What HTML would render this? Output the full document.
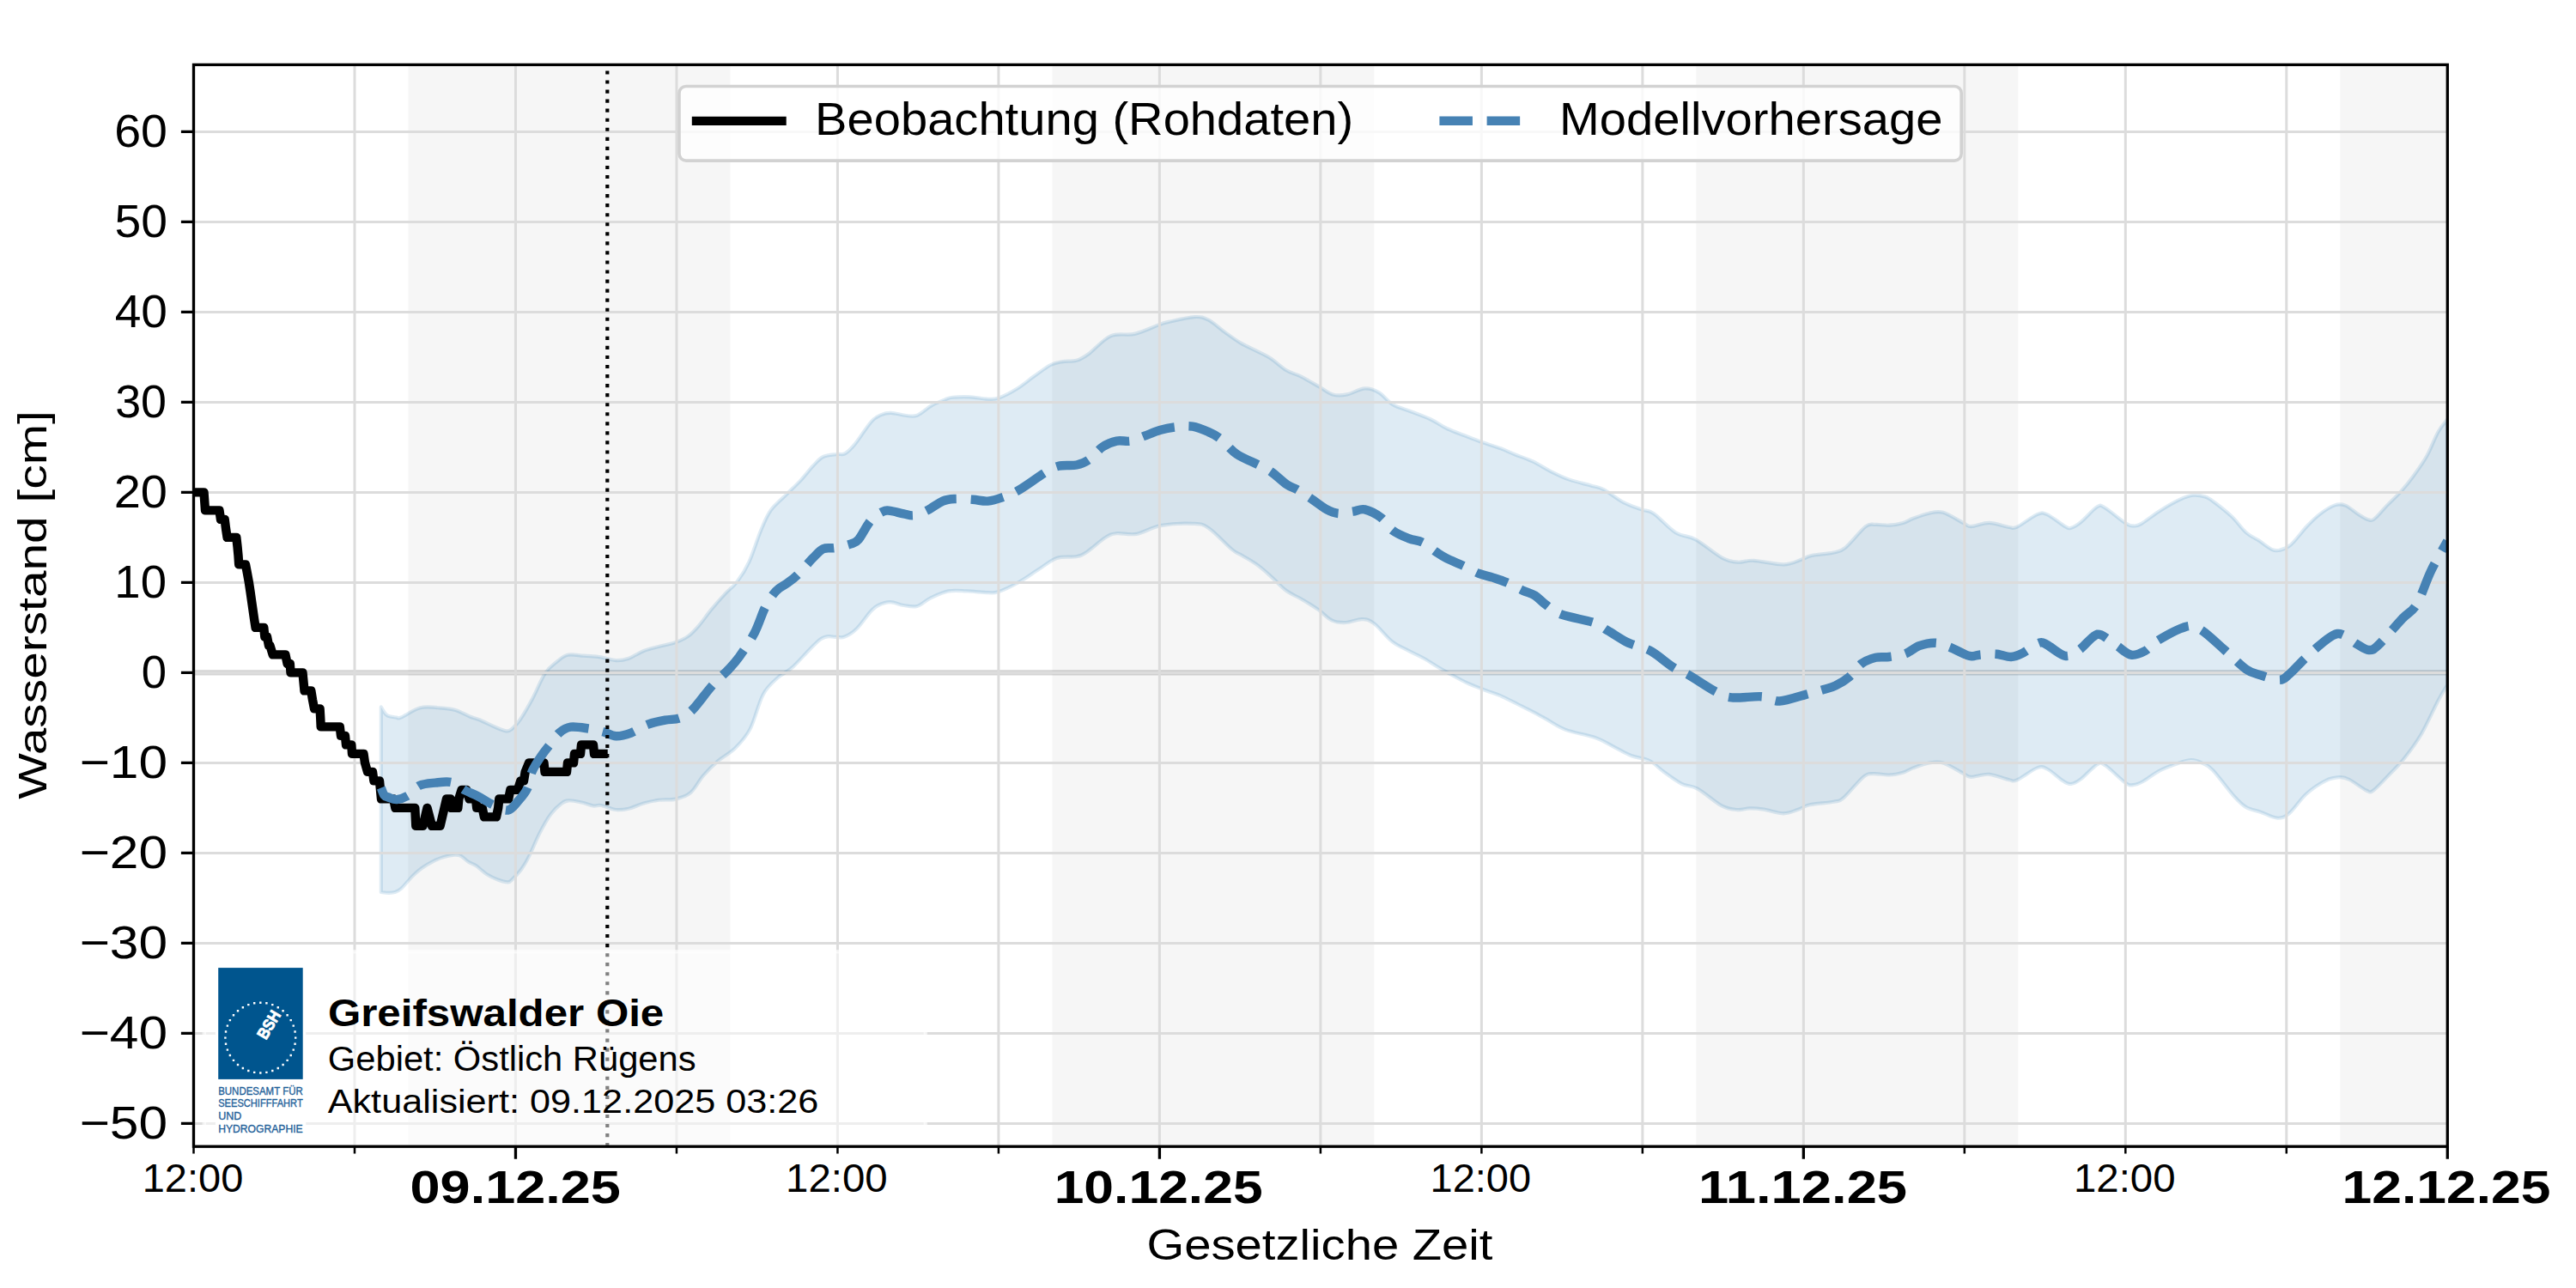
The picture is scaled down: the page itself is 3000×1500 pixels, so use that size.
<!DOCTYPE html><html><head><meta charset="utf-8"><style>html,body{margin:0;padding:0;background:#fff;overflow:hidden}svg{display:block}text{font-family:"Liberation Sans", sans-serif;fill:#000}</style></head><body>
<svg width="3000" height="1500" viewBox="0 0 3000 1500">
<rect x="0" y="0" width="3000" height="1500" fill="#fff"/>
<defs><clipPath id="ax"><rect x="225.5" y="75.4" width="2624.8" height="1259.8"/></clipPath></defs>
<g clip-path="url(#ax)">
<rect x="475.48" y="75.4" width="374.97" height="1259.8" fill="#f6f6f6"/>
<rect x="1225.42" y="75.4" width="374.97" height="1259.8" fill="#f6f6f6"/>
<rect x="1975.37" y="75.4" width="374.97" height="1259.8" fill="#f6f6f6"/>
<rect x="2725.31" y="75.4" width="124.99" height="1259.8" fill="#f6f6f6"/>
<line x1="225.5" y1="783.4" x2="2850.3" y2="783.4" stroke="#808080" stroke-opacity="0.34" stroke-width="6.3"/>
<path d="M443.8 823.4 C444.88 824.95 447.35 830.68 450.3 832.7 C453.25 834.72 458.7 835.03 461.5 835.5 C464.3 835.97 462.43 837.37 467.1 835.5 C471.77 833.63 482.05 826.17 489.5 824.3 C496.95 822.43 504.97 823.85 511.8 824.3 C518.63 824.75 524.6 825.3 530.5 827 C536.4 828.7 542.55 832.62 547.2 834.5 C551.85 836.38 552.8 835.97 558.4 838.3 C564 840.63 575.2 846.33 580.8 848.5 C586.4 850.67 588.9 851.77 592 851.3 C595.1 850.83 596.92 848.18 599.4 845.7 C601.88 843.22 603.48 841.68 606.9 836.4 C610.32 831.12 615.25 822.7 619.9 814 C624.55 805.3 630.13 791.33 634.8 784.2 C639.47 777.07 643.55 774.77 647.9 771.2 C652.25 767.63 655.63 764.05 660.9 762.8 C666.17 761.55 673.92 763.38 679.5 763.7 C685.08 764.02 690.98 764.42 694.4 764.7 C697.82 764.98 696.17 764.67 700 765.4 C703.83 766.13 712.02 768.88 717.4 769.1 C722.78 769.32 726.92 768.55 732.3 766.7 C737.68 764.85 743.9 760.28 749.7 758 C755.5 755.72 760.9 754.67 767.1 753 C773.3 751.33 781.12 750.07 786.9 748 C792.68 745.93 797.25 743.9 801.8 740.6 C806.35 737.3 809.82 733.27 814.2 728.2 C818.58 723.13 823.07 716.3 828.1 710.2 C833.13 704.1 839.35 697.03 844.4 691.6 C849.45 686.17 853.73 683.82 858.4 677.6 C863.07 671.38 867.73 664.4 872.4 654.3 C877.07 644.2 882.13 627.08 886.4 617 C890.67 606.92 892.95 600.78 898 593.8 C903.05 586.82 910.87 580.93 916.7 575.1 C922.53 569.27 927.97 564.23 933 558.8 C938.03 553.37 942.63 546.97 946.9 542.5 C951.17 538.03 953.93 534.25 958.6 532 C963.27 529.75 970.63 529.65 974.9 529 C979.17 528.35 980.7 530.12 984.2 528.1 C987.7 526.08 990.85 523.03 995.9 516.9 C1000.95 510.77 1009.45 496.93 1014.5 491.3 C1019.55 485.67 1022.32 484.85 1026.2 483.1 C1030.08 481.35 1033.15 480.68 1037.8 480.8 C1042.45 480.92 1049.05 483.3 1054.1 483.8 C1059.15 484.3 1063.05 485.67 1068.1 483.8 C1073.15 481.93 1079.08 475.63 1084.4 472.6 C1089.72 469.57 1095.85 467.23 1100 465.6 C1104.15 463.97 1104.25 463.35 1109.3 462.8 C1114.35 462.25 1123.7 462 1130.3 462.3 C1136.9 462.6 1143.47 464.4 1148.9 464.6 C1154.33 464.8 1157.07 465.43 1162.9 463.5 C1168.73 461.57 1176.92 457.28 1183.9 453 C1190.88 448.72 1198.2 442.47 1204.8 437.8 C1211.4 433.13 1218.07 427.78 1223.5 425 C1228.93 422.22 1232.35 421.98 1237.4 421.1 C1242.45 420.22 1248.75 421.18 1253.8 419.7 C1258.85 418.22 1261.1 416.93 1267.7 412.2 C1274.3 407.47 1284.47 395.18 1293.4 391.3 C1302.33 387.42 1311.98 391.05 1321.3 388.9 C1330.62 386.75 1342.7 380.73 1349.3 378.4 C1355.9 376.07 1353.92 376.45 1360.9 374.9 C1367.88 373.35 1383.43 369.48 1391.2 369.1 C1398.97 368.72 1401.67 369.68 1407.5 372.6 C1413.33 375.52 1419.98 382.13 1426.2 386.6 C1432.42 391.07 1438.2 395.52 1444.8 399.4 C1451.4 403.28 1459.93 406.88 1465.8 409.9 C1471.67 412.92 1474.53 413.9 1480 417.5 C1485.47 421.1 1492.78 428.02 1498.6 431.5 C1504.42 434.98 1508.68 435.3 1514.9 438.4 C1521.12 441.5 1529.68 446.6 1535.9 450.1 C1542.12 453.6 1546.77 457.85 1552.2 459.4 C1557.63 460.95 1562.28 460.57 1568.5 459.4 C1574.72 458.23 1583.28 452.78 1589.5 452.4 C1595.72 452.02 1600.37 453.98 1605.8 457.1 C1611.23 460.22 1615.88 467.42 1622.1 471.1 C1628.32 474.78 1635.72 476.3 1643.1 479.2 C1650.48 482.1 1659.42 485.2 1666.4 488.5 C1673.38 491.8 1678.02 495.7 1685 499 C1691.98 502.3 1701.32 505.58 1708.3 508.3 C1715.28 511.02 1720.3 512.97 1726.9 515.3 C1733.5 517.63 1741.68 519.97 1747.9 522.3 C1754.12 524.63 1757.98 526.78 1764.2 529.3 C1770.42 531.82 1778.2 534.1 1785.2 537.4 C1792.2 540.7 1799.22 545.6 1806.2 549.1 C1813.18 552.6 1819.35 555.68 1827.1 558.4 C1834.85 561.12 1845.95 563.45 1852.7 565.4 C1859.45 567.35 1861.23 566.8 1867.6 570.1 C1873.97 573.4 1883.53 581.32 1890.9 585.2 C1898.27 589.08 1905.98 591.27 1911.8 593.4 C1917.62 595.53 1919.2 593.53 1925.8 598 C1932.4 602.47 1943.25 615.15 1951.4 620.2 C1959.55 625.25 1965.77 623.45 1974.7 628.3 C1983.63 633.15 1996.85 644.9 2005 649.3 C2013.15 653.7 2017.38 654.12 2023.6 654.7 C2029.82 655.28 2033.37 652.35 2042.3 652.8 C2051.23 653.25 2067.88 657.6 2077.2 657.4 C2086.52 657.2 2092.77 653.33 2098.2 651.6 C2103.63 649.87 2103.58 648.35 2109.8 647 C2116.02 645.65 2128.9 645.07 2135.5 643.5 C2142.1 641.93 2143.2 642.65 2149.4 637.6 C2155.6 632.55 2166.87 617.65 2172.7 613.2 C2178.53 608.75 2179.85 611.15 2184.4 610.9 C2188.95 610.65 2194.68 612.03 2200 611.7 C2205.32 611.37 2211.63 610.22 2216.3 608.9 C2220.97 607.58 2222.95 605.67 2228 603.8 C2233.05 601.93 2240.78 598.87 2246.6 597.7 C2252.42 596.53 2256.3 594.93 2262.9 596.8 C2269.5 598.67 2280.77 606.18 2286.2 608.9 C2291.63 611.62 2290.45 613.1 2295.5 613.1 C2300.55 613.1 2309.12 608.75 2316.5 608.9 C2323.88 609.05 2334.37 613.22 2339.8 614 C2345.23 614.78 2343.67 616.08 2349.1 613.6 C2354.53 611.12 2366.58 601.52 2372.4 599.1 C2378.22 596.68 2378.57 596.77 2384 599.1 C2389.43 601.43 2400.33 610.5 2405 613.1 C2409.67 615.7 2408.9 615.58 2412 614.7 C2415.1 613.82 2418.55 611.87 2423.6 607.8 C2428.65 603.73 2437.63 593.02 2442.3 590.3 C2446.97 587.58 2446.17 588.4 2451.6 591.5 C2457.03 594.6 2469.47 605.42 2474.9 608.9 C2480.33 612.38 2481.1 612.2 2484.2 612.4 C2487.3 612.6 2488.45 612.93 2493.5 610.1 C2498.55 607.27 2507.12 600.07 2514.5 595.4 C2521.88 590.73 2531.2 585.2 2537.8 582.1 C2544.4 579 2549.05 577.38 2554.1 576.8 C2559.15 576.22 2564.02 577.27 2568.1 578.6 C2572.18 579.93 2573.43 580.97 2578.6 584.8 C2583.77 588.63 2592.88 595.7 2599.1 601.6 C2605.32 607.5 2610.62 615.53 2615.9 620.2 C2621.18 624.87 2625.83 626.33 2630.8 629.6 C2635.77 632.87 2641.67 637.95 2645.7 639.8 C2649.73 641.65 2651.27 641.63 2655 640.7 C2658.73 639.77 2662.82 638.85 2668.1 634.2 C2673.38 629.55 2681.12 618.7 2686.7 612.8 C2692.28 606.9 2696.32 602.83 2701.6 598.8 C2706.88 594.77 2713.43 590.3 2718.4 588.6 C2723.37 586.9 2726.75 586.9 2731.4 588.6 C2736.05 590.3 2741.95 596.07 2746.3 598.8 C2750.65 601.53 2754.38 604.07 2757.5 605 C2760.62 605.93 2761.27 607.13 2765 604.4 C2768.73 601.67 2774.63 594.03 2779.9 588.6 C2785.17 583.17 2791.33 577.7 2796.6 571.8 C2801.87 565.9 2806.53 560.03 2811.5 553.2 C2816.47 546.37 2821.73 539.18 2826.4 530.8 C2831.07 522.42 2835.52 509.95 2839.5 502.9 C2843.48 495.85 2848.5 490.9 2850.3 488.5 L2850.3 797.5 C2848.52 800.53 2844.65 806.15 2839.6 815.7 C2834.55 825.25 2826.53 843.62 2820 854.8 C2813.47 865.98 2806.47 875.1 2800.4 882.8 C2794.33 890.5 2789.65 894.72 2783.6 901 C2777.55 907.28 2768.75 917.25 2764.1 920.5 C2759.45 923.75 2760.37 922.58 2755.7 920.5 C2751.03 918.42 2741.22 910.55 2736.1 908 C2730.98 905.45 2729.65 904.98 2725 905.2 C2720.35 905.42 2714.73 906.05 2708.2 909.3 C2701.67 912.55 2692.8 918.4 2685.8 924.7 C2678.8 931 2671.78 942.43 2666.2 947.1 C2660.62 951.77 2657.88 952.93 2652.3 952.7 C2646.72 952.47 2638.77 947.8 2632.7 945.7 C2626.63 943.6 2621.03 943.13 2615.9 940.1 C2610.77 937.07 2608.42 934.72 2601.9 927.5 C2595.38 920.28 2583.22 903.37 2576.8 896.8 C2570.38 890.23 2567.57 890.07 2563.4 888.1 C2559.23 886.13 2556.07 884.93 2551.8 885 C2547.53 885.07 2544.02 886.37 2537.8 888.5 C2531.58 890.63 2521.48 894.22 2514.5 897.8 C2507.52 901.38 2500.95 907.27 2495.9 910 C2490.85 912.73 2487.7 913.97 2484.2 914.2 C2480.7 914.43 2480.33 915.22 2474.9 911.4 C2469.47 907.58 2457.03 894.8 2451.6 891.3 C2446.17 887.8 2446.97 887.75 2442.3 890.4 C2437.63 893.05 2428.65 903.43 2423.6 907.2 C2418.55 910.97 2415.48 912.62 2412 913 C2408.52 913.38 2407.37 912.42 2402.7 909.5 C2398.03 906.58 2389.05 898.02 2384 895.5 C2378.95 892.98 2378.22 892.27 2372.4 894.4 C2366.58 896.53 2354.53 905.98 2349.1 908.3 C2343.67 910.62 2345.23 909.38 2339.8 908.3 C2334.37 907.22 2323.88 902.38 2316.5 901.8 C2309.12 901.22 2300.55 905 2295.5 904.8 C2290.45 904.6 2291.63 903.32 2286.2 900.6 C2280.77 897.88 2269.5 890.52 2262.9 888.5 C2256.3 886.48 2252.42 887.52 2246.6 888.5 C2240.78 889.48 2233.05 892.53 2228 894.4 C2222.95 896.27 2220.97 898.35 2216.3 899.7 C2211.63 901.05 2205.7 902.27 2200 902.5 C2194.3 902.73 2187.03 900.75 2182.1 901.1 C2177.17 901.45 2176.23 899.93 2170.4 904.6 C2164.57 909.27 2152.92 924.23 2147.1 929.1 C2141.28 933.97 2142.1 932.43 2135.5 933.8 C2128.9 935.17 2114.5 935.75 2107.5 937.3 C2100.5 938.85 2098.55 941.43 2093.5 943.1 C2088.45 944.77 2083.8 947.38 2077.2 947.3 C2070.6 947.22 2060.5 943.58 2053.9 942.6 C2047.3 941.62 2042.65 941.32 2037.6 941.4 C2032.55 941.48 2029.03 943.6 2023.6 943.1 C2018.17 942.6 2012.77 942.48 2005 938.4 C1997.23 934.32 1984.77 922.87 1977 918.6 C1969.23 914.33 1964.98 916.1 1958.4 912.8 C1951.82 909.5 1943.72 903.27 1937.5 898.8 C1931.28 894.33 1927.32 889.1 1921.1 886 C1914.88 882.9 1906.8 882.72 1900.2 880.2 C1893.6 877.68 1888.5 874.4 1881.5 870.9 C1874.5 867.4 1867.9 862.7 1858.2 859.2 C1848.5 855.7 1833 853.58 1823.3 849.9 C1813.6 846.22 1806.48 840.63 1800 837.1 C1793.52 833.57 1789.72 831.47 1784.4 828.7 C1779.08 825.93 1774.32 823.6 1768.1 820.5 C1761.88 817.4 1753.32 812.82 1747.1 810.1 C1740.88 807.38 1737.4 806.73 1730.8 804.2 C1724.2 801.67 1716.03 798.97 1707.5 794.9 C1698.97 790.83 1687.75 784.45 1679.6 779.8 C1671.45 775.15 1665.2 770.7 1658.6 767 C1652 763.3 1646.22 760.9 1640 757.6 C1633.78 754.3 1627.92 752.43 1621.3 747.2 C1614.68 741.97 1606.12 730.55 1600.3 726.2 C1594.48 721.85 1591.83 721.3 1586.4 721.1 C1580.97 720.9 1573.53 724.73 1567.7 725 C1561.87 725.27 1556.83 725.22 1551.4 722.7 C1545.97 720.18 1540.92 713.98 1535.1 709.9 C1529.28 705.82 1522.72 701.88 1516.5 698.2 C1510.28 694.52 1503.63 692.07 1497.8 687.8 C1491.97 683.53 1486.93 677.47 1481.5 672.6 C1476.07 667.73 1471.02 662.87 1465.2 658.6 C1459.38 654.33 1451.65 650.1 1446.6 647 C1441.55 643.9 1441.42 645.35 1434.9 640 C1428.38 634.65 1415.17 619.93 1407.5 614.9 C1399.83 609.87 1398.22 610.27 1388.9 609.8 C1379.58 609.33 1362.48 610.08 1351.6 612.1 C1340.72 614.12 1332.2 620.38 1323.6 621.9 C1315 623.42 1306.17 620.45 1300 621.2 C1293.83 621.95 1292.33 622.77 1286.6 626.4 C1280.87 630.03 1271.13 639.37 1265.6 643 C1260.07 646.63 1259.22 647.03 1253.4 648.2 C1247.58 649.37 1237.98 647.52 1230.7 650 C1223.42 652.48 1217.28 658.3 1209.7 663.1 C1202.12 667.9 1193.07 674.43 1185.2 678.8 C1177.33 683.17 1168.32 687.4 1162.5 689.3 C1156.68 691.2 1156.42 690.35 1150.3 690.2 C1144.18 690.05 1133.38 688.7 1125.8 688.4 C1118.22 688.1 1111.78 687.08 1104.8 688.4 C1097.82 689.72 1090.02 693.38 1083.9 696.3 C1077.78 699.22 1073.35 704.45 1068.1 705.9 C1062.85 707.35 1057.63 705.78 1052.4 705 C1047.17 704.22 1041.65 701.2 1036.7 701.2 C1031.75 701.2 1026.48 703.2 1022.7 705 C1018.92 706.8 1018.12 707.52 1014 712 C1009.88 716.48 1003.15 726.93 998 731.9 C992.85 736.87 987.23 740.15 983.1 741.8 C978.97 743.45 977.75 741.38 973.2 741.8 C968.65 742.22 964.08 738.5 955.8 744.3 C947.52 750.1 931.78 769.15 923.5 776.6 C915.22 784.05 911.9 783.62 906.1 789 C900.3 794.38 894.08 798.97 888.7 808.9 C883.32 818.83 879.17 838.25 873.8 848.6 C868.43 858.95 862.7 864.78 856.5 871 C850.3 877.22 842.82 880.53 836.6 885.9 C830.38 891.27 824.58 897 819.2 903.2 C813.82 909.4 809.68 918.53 804.3 923.1 C798.92 927.67 793.1 929.15 786.9 930.6 C780.7 932.05 773.3 930.98 767.1 931.8 C760.9 932.62 755.5 933.85 749.7 935.5 C743.9 937.15 737.68 940.45 732.3 941.7 C726.92 942.95 722.78 943.62 717.4 943 C712.02 942.38 704.42 938.75 700 938 C695.58 937.25 694.5 939.03 690.9 938.5 C687.3 937.97 683.17 935.83 678.4 934.8 C673.63 933.77 666.43 932.1 662.3 932.3 C658.17 932.5 657.12 933.32 653.6 936 C650.08 938.68 645.33 942.8 641.2 948.4 C637.07 954 632.95 961.52 628.8 969.6 C624.65 977.68 619.83 989.87 616.3 996.9 C612.77 1003.93 610.7 1007.45 607.6 1011.8 C604.5 1016.15 600.38 1020.42 597.7 1023 C595.02 1025.58 594.6 1027.1 591.5 1027.3 C588.4 1027.5 583.25 1025.75 579.1 1024.2 C574.95 1022.65 570.75 1020.68 566.6 1018 C562.45 1015.32 557.72 1010.48 554.2 1008.1 C550.68 1005.72 548.4 1005.57 545.5 1003.7 C542.6 1001.83 539.48 998.23 536.8 996.9 C534.12 995.57 532.7 995.5 529.4 995.7 C526.1 995.9 521.15 996.87 517 998.1 C512.85 999.33 508.85 1000.92 504.5 1003.1 C500.15 1005.28 495.03 1008.2 490.9 1011.2 C486.77 1014.2 483.63 1017.17 479.7 1021.1 C475.77 1025.03 470.62 1031.8 467.3 1034.8 C463.98 1037.8 462.28 1038.27 459.8 1039.1 C457.32 1039.93 455.07 1039.82 452.4 1039.8 C449.73 1039.78 445.23 1039.13 443.8 1039 Z" fill="#1f77b4" fill-opacity="0.15" stroke="#1f77b4" stroke-opacity="0.15" stroke-width="4.17" stroke-linejoin="round"/>
<path d="M412.99 75.4 V1335.2 M600.47 75.4 V1335.2 M787.96 75.4 V1335.2 M975.44 75.4 V1335.2 M1162.93 75.4 V1335.2 M1350.41 75.4 V1335.2 M1537.9 75.4 V1335.2 M1725.39 75.4 V1335.2 M1912.87 75.4 V1335.2 M2100.36 75.4 V1335.2 M2287.84 75.4 V1335.2 M2475.33 75.4 V1335.2 M2662.81 75.4 V1335.2 M225.5 1308.4 H2850.3 M225.5 1203.4 H2850.3 M225.5 1098.4 H2850.3 M225.5 993.4 H2850.3 M225.5 888.4 H2850.3 M225.5 783.4 H2850.3 M225.5 678.4 H2850.3 M225.5 573.4 H2850.3 M225.5 468.4 H2850.3 M225.5 363.4 H2850.3 M225.5 258.4 H2850.3 M225.5 153.4 H2850.3" stroke="#dcdcdc" stroke-width="3" fill="none"/>
<path d="M225.5 573.4 L237.5 573.4 L239 594.4 L255.5 594.4 L257 604.9 L261.7 604.9 L263 615.4 L264.6 625.9 L275.3 625.9 L276.5 636.4 L277.5 646.9 L278.2 657.4 L286 657.4 L288 667.9 L289.9 678.4 L291.5 688.9 L293 699.4 L294.5 709.9 L296 720.4 L297.6 730.9 L307.3 730.9 L308.3 741.4 L311 741.4 L313 751.9 L314.5 751.9 L317.7 762.4 L332.4 762.4 L334.6 772.9 L337.8 772.9 L338.5 783.4 L352.5 783.4 L353.5 793.9 L354.5 804.4 L362.3 804.4 L364 814.9 L366 825.4 L372.6 825.4 L373.2 835.9 L373.7 846.4 L395.8 846.4 L397 856.9 L402 856.9 L403 867.4 L409.3 867.4 L410 877.9 L423.5 877.9 L425 888.4 L428 898.9 L434 898.9 L435.4 909.4 L442 909.4 L443 919.9 L444 930.4 L458.3 930.4 L460.4 940.9 L483.3 940.9 L484.3 961.9 L492.5 961.9 L497.5 940.9 L503 961.9 L512.6 961.9 L520 930.4 L524.6 930.4 L525.7 940.9 L533.3 940.9 L534.3 930.4 L537.6 919.9 L543.3 919.9 L546.5 930.4 L554 930.4 L555.2 940.9 L561.7 940.9 L563.9 951.4 L578 951.4 L580.2 940.9 L581.3 930.4 L592.2 930.4 L594.3 919.9 L603 919.9 L606.3 909.4 L610 909.4 L611.7 898.9 L616 888.4 L633.5 888.4 L634.5 898.9 L660 898.9 L661 888.4 L668 888.4 L669 877.9 L676 877.9 L677 867.4 L691 867.4 L692 877.9 L702.5 877.9" stroke="#000" stroke-width="10.42" fill="none" stroke-linejoin="round" stroke-linecap="square"/>
<path d="M443.8 917.5 C444.4 918.92 446 924.17 447.4 926 C448.8 927.83 449.72 927.65 452.2 928.5 C454.68 929.35 458.33 931.5 462.3 931.1 C466.27 930.7 471.65 928.8 476 926.1 C480.35 923.4 483.23 917.32 488.4 914.9 C493.57 912.48 500.68 912.22 507 911.6 C513.32 910.98 520.5 909.72 526.3 911.2 C532.1 912.68 536.73 917.82 541.8 920.5 C546.87 923.18 551.32 924.5 556.7 927.3 C562.08 930.1 568.3 934.6 574.1 937.3 C579.9 940 586.53 944.33 591.5 943.5 C596.47 942.67 600.17 936.45 603.9 932.3 C607.63 928.15 611.23 924.33 613.9 918.6 C616.57 912.87 617.03 904.45 619.9 897.9 C622.77 891.35 627.68 884.42 631.1 879.3 C634.52 874.18 636.98 871.55 640.4 867.2 C643.82 862.85 647.57 856.62 651.6 853.2 C655.63 849.78 659.02 847.48 664.6 846.7 C670.18 845.92 678.78 847.57 685.1 848.5 C691.42 849.43 697.12 850.83 702.5 852.3 C707.88 853.77 712.02 857.08 717.4 857.3 C722.78 857.52 728.6 855.88 734.8 853.6 C741 851.32 747.98 846.08 754.6 843.6 C761.22 841.12 768.28 839.93 774.5 838.7 C780.72 837.47 786.52 838.27 791.9 836.2 C797.28 834.13 800.6 832.52 806.8 826.3 C813 820.08 822.07 806.77 829.1 798.9 C836.13 791.03 843.62 784.88 849 779.1 C854.38 773.32 856.43 771.23 861.4 764.2 C866.37 757.17 873.83 746.42 878.8 736.9 C883.77 727.38 887.07 715.18 891.2 707.1 C895.33 699.02 899.45 692.97 903.6 688.4 C907.75 683.83 911.95 682.8 916.1 679.7 C920.25 676.6 923.37 674.8 928.5 669.8 C933.63 664.8 941.88 654.8 946.9 649.7 C951.92 644.6 954.32 641.15 958.6 639.2 C962.88 637.25 967.17 638.97 972.6 638 C978.03 637.03 986.63 635.05 991.2 633.4 C995.77 631.75 996.2 632.62 1000 628.1 C1003.8 623.58 1009.33 611.68 1014 606.3 C1018.67 600.92 1024.22 597.7 1028 595.8 C1031.78 593.9 1032.63 594.47 1036.7 594.9 C1040.77 595.33 1047.73 597.52 1052.4 598.4 C1057.07 599.28 1060.03 600.92 1064.7 600.2 C1069.37 599.48 1074.87 596.87 1080.4 594.1 C1085.93 591.33 1092.67 585.78 1097.9 583.6 C1103.13 581.42 1105.98 581.3 1111.8 581 C1117.62 580.7 1126.38 581.37 1132.8 581.8 C1139.22 582.23 1144.48 584.03 1150.3 583.6 C1156.12 583.17 1161.58 581.38 1167.7 579.2 C1173.82 577.02 1178.87 575.23 1187 570.5 C1195.13 565.77 1208.87 555.43 1216.5 550.8 C1224.13 546.17 1226.58 544.25 1232.8 542.7 C1239.02 541.15 1247.98 542.67 1253.8 541.5 C1259.62 540.33 1262.67 539.2 1267.7 535.7 C1272.73 532.2 1278.57 524.18 1284 520.5 C1289.43 516.82 1294.85 514.75 1300.3 513.6 C1305.75 512.45 1311.25 514.58 1316.7 513.6 C1322.15 512.62 1327.18 509.85 1333 507.7 C1338.82 505.55 1345.4 502.45 1351.6 500.7 C1357.8 498.95 1363.98 497.88 1370.2 497.2 C1376.42 496.52 1382.68 495.62 1388.9 496.6 C1395.12 497.58 1402.07 500.67 1407.5 503.1 C1412.93 505.53 1416.07 506.93 1421.5 511.2 C1426.93 515.47 1432.72 523.65 1440.1 528.7 C1447.48 533.75 1459.15 538.1 1465.8 541.5 C1472.45 544.9 1474.53 545.32 1480 549.1 C1485.47 552.88 1493.55 560.7 1498.6 564.2 C1503.65 567.7 1505.63 567.38 1510.3 570.1 C1514.97 572.82 1520.78 576.62 1526.6 580.5 C1532.42 584.38 1539.77 590.48 1545.2 593.4 C1550.63 596.32 1554.15 597.62 1559.2 598 C1564.25 598.38 1570.45 596.47 1575.5 595.7 C1580.55 594.93 1584.07 592.23 1589.5 593.4 C1594.93 594.57 1602.67 598.63 1608.1 602.7 C1613.53 606.77 1616.67 613.73 1622.1 617.8 C1627.53 621.87 1634.87 624.77 1640.7 627.1 C1646.53 629.43 1651.65 629.08 1657.1 631.8 C1662.55 634.52 1668.75 640.3 1673.4 643.4 C1678.05 646.5 1679.97 647.87 1685 650.4 C1690.03 652.93 1697.38 655.68 1703.6 658.6 C1709.82 661.52 1716.47 665.57 1722.3 667.9 C1728.13 670.23 1733.17 670.85 1738.6 672.6 C1744.03 674.35 1749.08 675.88 1754.9 678.4 C1760.72 680.92 1768.07 685.18 1773.5 687.7 C1778.93 690.22 1783.08 690.78 1787.5 693.5 C1791.92 696.22 1794.82 700.3 1800 704 C1805.18 707.7 1809.28 712.2 1818.6 715.7 C1827.92 719.2 1846.97 721.9 1855.9 725 C1864.83 728.1 1865.98 730.62 1872.2 734.3 C1878.42 737.98 1887.77 744.18 1893.2 747.1 C1898.63 750.02 1899.75 749.85 1904.8 751.8 C1909.85 753.75 1916.12 754.53 1923.5 758.8 C1930.88 763.07 1941.73 772.75 1949.1 777.4 C1956.47 782.05 1959.55 782.03 1967.7 786.7 C1975.85 791.37 1989.83 801.12 1998 805.4 C2006.17 809.68 2007.77 811.43 2016.7 812.4 C2025.63 813.37 2042.28 810.52 2051.6 811.2 C2060.92 811.88 2064.05 816.88 2072.6 816.5 C2081.15 816.12 2094.37 811.15 2102.9 808.9 C2111.43 806.65 2117.98 804.75 2123.8 803 C2129.62 801.25 2132.75 800.92 2137.8 798.4 C2142.85 795.88 2149.05 792.17 2154.1 787.9 C2159.15 783.63 2163.05 776.48 2168.1 772.8 C2173.15 769.12 2179.08 767.1 2184.4 765.8 C2189.72 764.5 2194.3 765.72 2200 765 C2205.7 764.28 2212.77 763.63 2218.6 761.5 C2224.43 759.37 2229.17 754.33 2235 752.2 C2240.83 750.07 2247.78 748.5 2253.6 748.7 C2259.42 748.9 2263.3 750.88 2269.9 753.4 C2276.5 755.92 2287.38 762.25 2293.2 763.8 C2299.02 765.35 2299.75 763.08 2304.8 762.7 C2309.85 762.32 2317.28 761.12 2323.5 761.5 C2329.72 761.88 2336.67 765.2 2342.1 765 C2347.53 764.8 2350.67 763.02 2356.1 760.3 C2361.53 757.58 2370.05 750.25 2374.7 748.7 C2379.35 747.15 2378.95 748.48 2384 751 C2389.05 753.52 2398.78 762.82 2405 763.8 C2411.22 764.78 2415.87 760.58 2421.3 756.9 C2426.73 753.22 2433.33 744.62 2437.6 741.7 C2441.87 738.78 2442.23 737.65 2446.9 739.4 C2451.57 741.15 2459.77 748.32 2465.6 752.2 C2471.43 756.08 2476.47 761.73 2481.9 762.7 C2487.33 763.67 2493.15 760.72 2498.2 758 C2503.25 755.28 2504.43 751.05 2512.2 746.4 C2519.97 741.75 2536.37 732.3 2544.8 730.1 C2553.23 727.9 2555.13 728.72 2562.8 733.2 C2570.47 737.68 2581.95 749.3 2590.8 757 C2599.65 764.7 2608.92 774.52 2615.9 779.4 C2622.88 784.28 2626.18 784.22 2632.7 786.3 C2639.22 788.38 2649.42 792.12 2655 791.9 C2660.58 791.68 2661.53 788.95 2666.2 785 C2670.87 781.05 2677.4 773.57 2683 768.2 C2688.6 762.83 2694.2 757.47 2699.8 752.8 C2705.4 748.13 2711.95 742.53 2716.6 740.2 C2721.25 737.87 2723.05 737.17 2727.7 738.8 C2732.35 740.43 2739.37 746.97 2744.5 750 C2749.63 753.03 2754.3 756.77 2758.5 757 C2762.7 757.23 2763.18 757.47 2769.7 751.4 C2776.22 745.33 2790.15 728.52 2797.6 720.6 C2805.05 712.68 2808.8 713.22 2814.4 703.9 C2820 694.58 2825.22 677.02 2831.2 664.7 C2837.18 652.38 2847.12 635.78 2850.3 630" stroke="#4682b4" stroke-width="10.42" fill="none" stroke-linejoin="round" stroke-dasharray="38.54 16.67"/>
<path d="M707.3 1335.2 V75.4" stroke="#000" stroke-width="4.17" stroke-dasharray="4.17 6.88"/>
</g>
<rect x="237.8" y="1108.2" width="840" height="235" fill="#fff" fill-opacity="0.5" stroke="#fff" stroke-opacity="0.6" stroke-width="4.4"/>
<rect x="250.9" y="1118" width="105.3" height="208" fill="#fff"/>
<rect x="254.2" y="1127.1" width="98.5" height="129.8" fill="#00558e"/>
<path d="M344.2 1208.6 h0 M343.58 1215.7 h0 M341.73 1222.59 h0 M338.72 1229.05 h0 M334.63 1234.89 h0 M329.59 1239.93 h0 M323.75 1244.02 h0 M317.29 1247.03 h0 M310.4 1248.88 h0 M303.3 1249.5 h0 M296.2 1248.88 h0 M289.31 1247.03 h0 M282.85 1244.02 h0 M277.01 1239.93 h0 M271.97 1234.89 h0 M267.88 1229.05 h0 M264.87 1222.59 h0 M263.02 1215.7 h0 M262.4 1208.6 h0 M263.02 1201.5 h0 M264.87 1194.61 h0 M267.88 1188.15 h0 M271.97 1182.31 h0 M277.01 1177.27 h0 M282.85 1173.18 h0 M289.31 1170.17 h0 M296.2 1168.32 h0 M303.3 1167.7 h0 M310.4 1168.32 h0 M317.29 1170.17 h0 M323.75 1173.18 h0 M329.59 1177.27 h0 M334.63 1182.31 h0 M338.72 1188.15 h0 M341.73 1194.61 h0 M343.58 1201.5 h0" stroke="#fff" stroke-width="2.4" stroke-linecap="square"/>
<text x="0" y="6.8" font-size="19" font-weight="bold" text-anchor="middle" textLength="35" lengthAdjust="spacingAndGlyphs" transform="translate(312.8 1193.3) rotate(-59)" style="fill:#fff;stroke:#fff;stroke-width:0.9">BSH</text>
<text x="254.2" y="1274.8" font-size="12.5" textLength="98.5" lengthAdjust="spacingAndGlyphs" style="fill:#1f5f99;stroke:#1f5f99;stroke-width:0.35">BUNDESAMT FÜR</text>
<text x="254.2" y="1289.4" font-size="12.5" textLength="98.5" lengthAdjust="spacingAndGlyphs" style="fill:#1f5f99;stroke:#1f5f99;stroke-width:0.35">SEESCHIFFFAHRT</text>
<text x="254.2" y="1303.9" font-size="12.5" style="fill:#1f5f99;stroke:#1f5f99;stroke-width:0.35">UND</text>
<text x="254.2" y="1318.7" font-size="12.5" textLength="98.5" lengthAdjust="spacingAndGlyphs" style="fill:#1f5f99;stroke:#1f5f99;stroke-width:0.35">HYDROGRAPHIE</text>
<rect x="225.5" y="75.4" width="2624.8" height="1259.8" fill="none" stroke="#000" stroke-width="3.33" stroke-linejoin="miter"/>
<path d="M210.9 1308.4 H225.5 M210.9 1203.4 H225.5 M210.9 1098.4 H225.5 M210.9 993.4 H225.5 M210.9 888.4 H225.5 M210.9 783.4 H225.5 M210.9 678.4 H225.5 M210.9 573.4 H225.5 M210.9 468.4 H225.5 M210.9 363.4 H225.5 M210.9 258.4 H225.5 M210.9 153.4 H225.5" stroke="#000" stroke-width="3.33"/>
<path d="M600.47 1335.2 V1349.8 M1350.41 1335.2 V1349.8 M2100.36 1335.2 V1349.8 M2850.3 1335.2 V1349.8" stroke="#000" stroke-width="3.33"/>
<path d="M225.5 1335.2 V1343.53 M412.99 1335.2 V1343.53 M787.96 1335.2 V1343.53 M975.44 1335.2 V1343.53 M1162.93 1335.2 V1343.53 M1537.9 1335.2 V1343.53 M1725.39 1335.2 V1343.53 M1912.87 1335.2 V1343.53 M2287.84 1335.2 V1343.53 M2475.33 1335.2 V1343.53 M2662.81 1335.2 V1343.53" stroke="#000" stroke-width="2.5"/>
<rect x="791" y="100.5" width="1493.2" height="86.6" rx="8" ry="8" fill="#fff" fill-opacity="0.8" stroke="#d2d2d2" stroke-width="3.6"/>
<path d="M811 140.9 H910.5" stroke="#000" stroke-width="10.42" stroke-linecap="square"/>
<path d="M1676.4 140.8 H1776.4" stroke="#4682b4" stroke-width="10.42" stroke-dasharray="38.54 16.67"/>
<g>
<text x="195" y="1326.2" font-size="53.35" font-weight="normal" textLength="102.48" lengthAdjust="spacingAndGlyphs" text-anchor="end">−50</text>
<text x="195" y="1221.2" font-size="53.35" font-weight="normal" textLength="102.48" lengthAdjust="spacingAndGlyphs" text-anchor="end">−40</text>
<text x="195" y="1116.2" font-size="53.35" font-weight="normal" textLength="102.48" lengthAdjust="spacingAndGlyphs" text-anchor="end">−30</text>
<text x="195" y="1011.2" font-size="53.35" font-weight="normal" textLength="102.48" lengthAdjust="spacingAndGlyphs" text-anchor="end">−20</text>
<text x="195" y="906.2" font-size="53.35" font-weight="normal" textLength="102.48" lengthAdjust="spacingAndGlyphs" text-anchor="end">−10</text>
<text x="194" y="801.2" font-size="53.35" font-weight="normal" textLength="29.26" lengthAdjust="spacingAndGlyphs" text-anchor="end">0</text>
<text x="194" y="696.2" font-size="53.35" font-weight="normal" textLength="60.63" lengthAdjust="spacingAndGlyphs" text-anchor="end">10</text>
<text x="195" y="591.2" font-size="53.35" font-weight="normal" textLength="62.29" lengthAdjust="spacingAndGlyphs" text-anchor="end">20</text>
<text x="194" y="486.2" font-size="53.35" font-weight="normal" textLength="59.84" lengthAdjust="spacingAndGlyphs" text-anchor="end">30</text>
<text x="195" y="381.2" font-size="53.35" font-weight="normal" textLength="61.28" lengthAdjust="spacingAndGlyphs" text-anchor="end">40</text>
<text x="195" y="276.2" font-size="53.35" font-weight="normal" textLength="61.5" lengthAdjust="spacingAndGlyphs" text-anchor="end">50</text>
<text x="195" y="171.2" font-size="53.35" font-weight="normal" textLength="61.79" lengthAdjust="spacingAndGlyphs" text-anchor="end">60</text>
<text x="224.5" y="1387.88" font-size="45.5" font-weight="normal" textLength="117.57" lengthAdjust="spacingAndGlyphs" text-anchor="middle">12:00</text>
<text x="974.43" y="1387.88" font-size="45.5" font-weight="normal" textLength="118.62" lengthAdjust="spacingAndGlyphs" text-anchor="middle">12:00</text>
<text x="1724.36" y="1387.88" font-size="45.5" font-weight="normal" textLength="117.57" lengthAdjust="spacingAndGlyphs" text-anchor="middle">12:00</text>
<text x="2474.29" y="1387.88" font-size="45.5" font-weight="normal" textLength="118.62" lengthAdjust="spacingAndGlyphs" text-anchor="middle">12:00</text>
<text x="600.21" y="1401.2" font-size="53.35" font-weight="bold" textLength="245.31" lengthAdjust="spacingAndGlyphs" text-anchor="middle">09.12.25</text>
<text x="1349.14" y="1401.2" font-size="53.35" font-weight="bold" textLength="243.03" lengthAdjust="spacingAndGlyphs" text-anchor="middle">10.12.25</text>
<text x="2099.57" y="1401.2" font-size="53.35" font-weight="bold" textLength="243.03" lengthAdjust="spacingAndGlyphs" text-anchor="middle">11.12.25</text>
<text x="2849" y="1401.2" font-size="53.35" font-weight="bold" textLength="243.03" lengthAdjust="spacingAndGlyphs" text-anchor="middle">12.12.25</text>
<text x="949.09" y="157.35" font-size="52.9" font-weight="normal" textLength="627.11" lengthAdjust="spacingAndGlyphs" >Beobachtung (Rohdaten)</text>
<text x="1816.09" y="157.35" font-size="52.9" font-weight="normal" textLength="446.36" lengthAdjust="spacingAndGlyphs" >Modellvorhersage</text>
<text x="0" y="0" font-size="47.02" textLength="452.58" lengthAdjust="spacingAndGlyphs" text-anchor="middle" transform="translate(54.02 704.5) rotate(-90)">Wasserstand [cm]</text>
<text x="1537" y="1467.25" font-size="50.72" font-weight="normal" textLength="402.93" lengthAdjust="spacingAndGlyphs" text-anchor="middle">Gesetzliche Zeit</text>
<text x="381.92" y="1195.2" font-size="44.91" font-weight="bold" textLength="391.34" lengthAdjust="spacingAndGlyphs" >Greifswalder Oie</text>
<text x="381.89" y="1246.52" font-size="40.14" font-weight="normal" textLength="428.71" lengthAdjust="spacingAndGlyphs" >Gebiet: Östlich Rügens</text>
<text x="381.71" y="1296.18" font-size="38.45" font-weight="normal" textLength="571.69" lengthAdjust="spacingAndGlyphs" >Aktualisiert: 09.12.2025 03:26</text>
</g>
</svg></body></html>
